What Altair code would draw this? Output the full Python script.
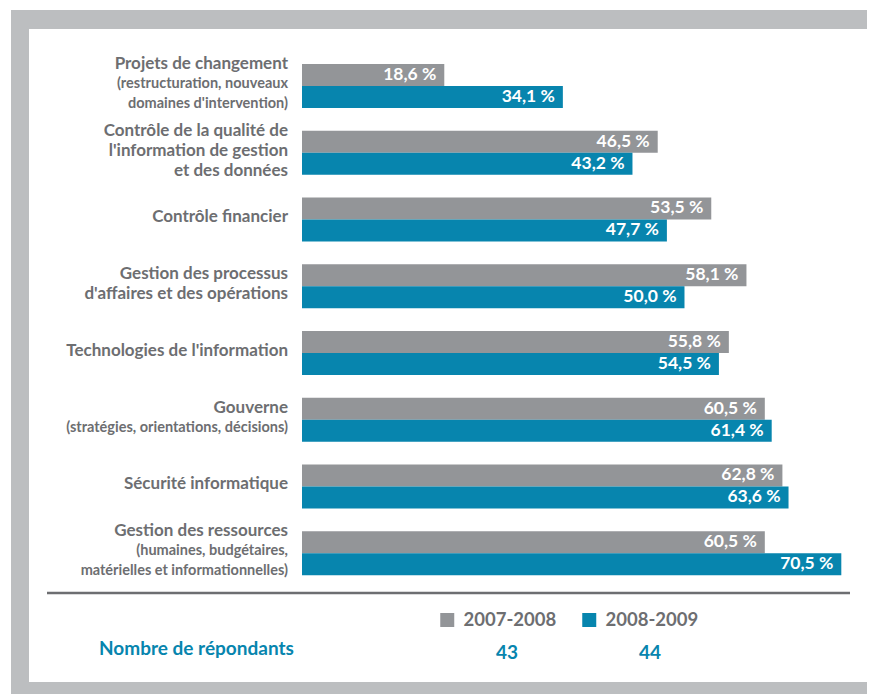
import altair as alt
import pandas as pd

# ---- data ----
categories = [
    "Projets de changement",
    "Contrôle de la qualité",
    "Contrôle financier",
    "Gestion des processus",
    "Technologies de l'information",
    "Gouverne",
    "Sécurité informatique",
    "Gestion des ressources",
]
label_main = [
    ["Projets de changement"],
    ["Contrôle de la qualité de", "l'information de gestion", "et des données"],
    ["Contrôle financier"],
    ["Gestion des processus", "d'affaires et des opérations"],
    ["Technologies de l'information"],
    ["Gouverne"],
    ["Sécurité informatique"],
    ["Gestion des ressources"],
]
label_sub = [
    ["(restructuration, nouveaux", "domaines d'intervention)"],
    [],
    [],
    [],
    [],
    ["(stratégies, orientations, décisions)"],
    [],
    ["(humaines, budgétaires,", "matérielles et informationnelles)"],
]
years = ["2007-2008", "2008-2009"]
values_0708 = [18.6, 46.5, 53.5, 58.1, 55.8, 60.5, 62.8, 60.5]
values_0809 = [34.1, 43.2, 47.7, 50.0, 54.5, 61.4, 63.6, 70.5]
respondents = [43, 44]
respondents_title = "Nombre de répondants"

# ---- styles ----
FONT = "Lato"
GREY_BAR = "#939598"
BLUE = "#0785ae"
TEXT_GREY = "#6d6e71"
FRAME = "#bcbec0"

rows = []
for cat, a, b in zip(categories, values_0708, values_0809):
    for yr, v in zip(years, (a, b)):
        rows.append({"category": cat, "year": yr, "value": v,
                     "label": f"{v:.1f} %".replace(".", ",")})
bars_df = pd.DataFrame(rows)

line_rows = []
for cat, main, sub in zip(categories, label_main, label_sub):
    lines = [(t, "main") for t in main] + [(t, "sub") for t in sub]
    n = len(lines)
    for k, (t, kind) in enumerate(lines):
        line_rows.append({"category": cat, "text": t, "kind": kind,
                          "off": k - (n - 1) / 2})
lines_df = pd.DataFrame(line_rows)

one = pd.DataFrame({"a": [0]})

W, H = 540, 534
X_MAX = 70.59

y_enc = alt.Y("category:N", sort=categories,
              scale=alt.Scale(paddingInner=0.34, paddingOuter=0.17), axis=None)
x_enc = alt.X("value:Q", scale=alt.Scale(domain=[0, X_MAX]), axis=None)
yoff = alt.YOffset("year:N", sort=years, scale=alt.Scale(domain=years))

frame_outer = alt.Chart(one).mark_rect(color=FRAME).encode(
    x=alt.value(-291), x2=alt.value(600), y=alt.value(-42.6), y2=alt.value(700))
frame_inner = alt.Chart(one).mark_rect(color="white").encode(
    x=alt.value(-273), x2=alt.value(565), y=alt.value(-23.6), y2=alt.value(629.4))

bars = alt.Chart(bars_df).mark_bar(opacity=1).encode(
    y=y_enc, yOffset=yoff, x=x_enc,
    color=alt.Color("year:N", scale=alt.Scale(domain=years, range=[GREY_BAR, BLUE]),
                    legend=alt.Legend(
                        title=None, orient="none", direction="horizontal",
                        legendX=136, legendY=558,
                        symbolType="square", symbolSize=196, symbolStrokeWidth=0,
                        symbolOpacity=1,
                        labelFont=FONT, labelFontSize=18.5, labelFontWeight="bold",
                        labelColor=TEXT_GREY, labelOffset=7, columnPadding=23,
                        labelLimit=200)),
)

values_txt = alt.Chart(bars_df).mark_text(
    align="right", baseline="middle", dx=-8, color="white",
    font=FONT, fontSize=17.5, fontWeight="bold").encode(
    y=y_enc, yOffset=yoff, x=x_enc, text="label:N")

label_layers = []
for o in sorted(lines_df["off"].unique()):
    label_layers.append(
        alt.Chart(lines_df).transform_filter(f"datum.off == {o}").mark_text(
            align="right", baseline="middle", dy=o * 20 - 2,
            color=TEXT_GREY, font=FONT, fontWeight="bold").encode(
            y=y_enc, x=alt.value(-14), text="text:N",
            size=alt.Size("kind:N", scale=alt.Scale(domain=["main", "sub"], range=[17, 14.5]),
                          legend=None))
    )

sep = alt.Chart(one).mark_rule(color=TEXT_GREY, strokeWidth=2.5).encode(
    x=alt.value(-255), x2=alt.value(548), y=alt.value(540.4))

resp_title = alt.Chart(one).mark_text(
    align="left", baseline="middle", color=BLUE, font=FONT, fontSize=19,
    fontWeight="bold", text=respondents_title).encode(
    x=alt.value(-203), y=alt.value(596))

resp_layers = []
for n, xpos in zip(respondents, [205, 348]):
    resp_layers.append(alt.Chart(one).mark_text(
        align="center", baseline="middle", color=BLUE, font=FONT, fontSize=19,
        fontWeight="bold", text=str(n)).encode(x=alt.value(xpos), y=alt.value(600)))

chart = alt.layer(
    frame_outer, frame_inner, bars, values_txt, *label_layers, sep, resp_title, *resp_layers
).resolve_scale(size="independent").properties(
    width=W, height=H,
    autosize=alt.AutoSizeParams(type="none"),
    padding={"left": 294, "top": 44.6, "right": 25, "bottom": 107.4},
    background="white",
).configure_view(stroke=None)

chart.save("out.html", embed_options={"renderer": "svg", "actions": False})
